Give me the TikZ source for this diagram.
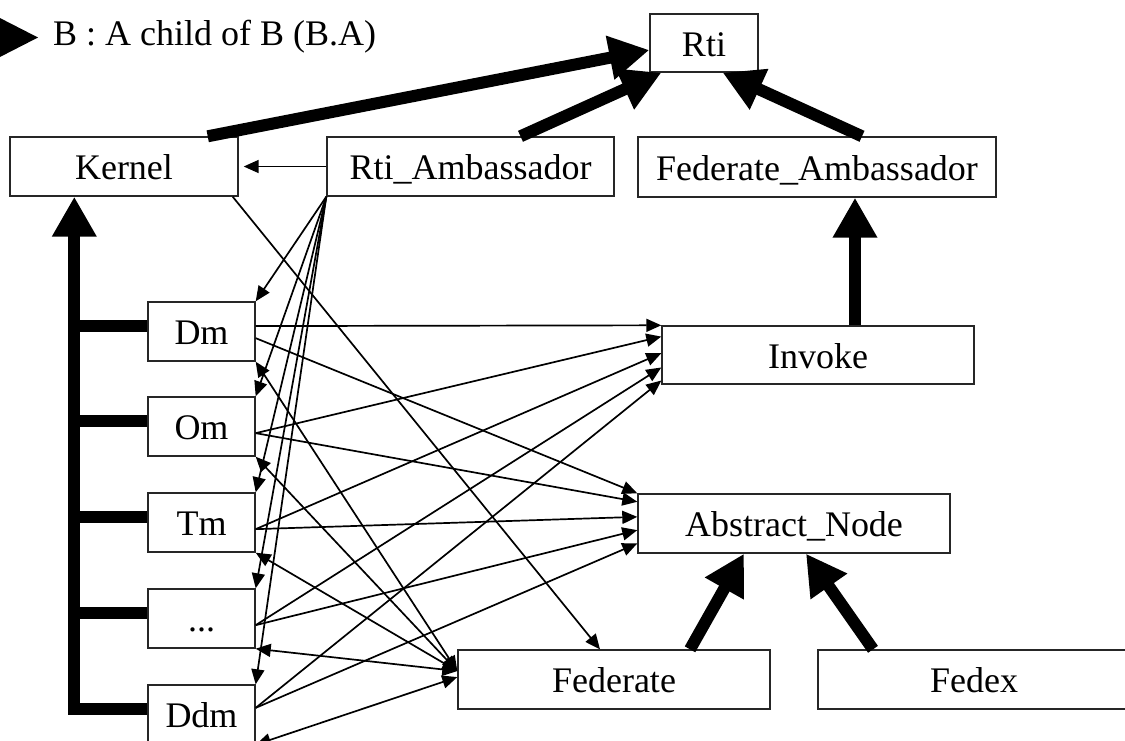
\documentclass[tikz,border=0pt]{standalone}
\usepackage{fontspec}
\setmainfont{Liberation Serif}
\usetikzlibrary{arrows.meta,calc}
\begin{document}
\begin{tikzpicture}[x=1pt,y=-1pt,
  lbl/.style={font=\fontsize{36}{40}\selectfont},
  box/.style={lbl,draw=black!85,line width=1.4pt,minimum height=59pt,inner sep=0pt,
              text height=26pt,text depth=0pt},
  link/.style={line width=1.7pt,-{Triangle[length=15pt,width=13pt]}},
  bilink/.style={line width=1.7pt,{Triangle[length=15pt,width=13pt]}-{Triangle[length=15pt,width=13pt]}},
  inherit/.style={line width=12pt,-{Triangle[length=40pt,width=42pt]}},
  branch/.style={line width=12pt}]
\useasboundingbox (0,0) rectangle (1125,740);
\clip (0,0) rectangle (1125,740);

% legend
\fill (-4,16) -- (38,37.5) -- (-4,59) -- cycle;
\node[lbl,anchor=base west,inner sep=0pt] (legend) at (53,45) {B : A child of B (B.A)};

% classes
\node[box,minimum width=108pt,minimum height=58pt] (rti) at (704,43) {Rti};
\node[box,minimum width=228pt] (kernel) at (124,166.5) {Kernel};
\node[box,minimum width=287pt] (rtiamb) at (470.5,166.5) {Rti\_Ambassador};
\node[box,minimum width=358pt,minimum height=60pt] (fedamb) at (817,167) {Federate\_Ambassador};
\node[box,minimum width=107pt] (dm) at (201.5,331.5) {Dm};
\node[box,minimum width=107pt] (om) at (201.5,426.5) {Om};
\node[box,minimum width=107pt] (tm) at (201.5,522.5) {Tm};
\node[box,minimum width=107pt] (dots) at (201.5,618.5) {...};
\node[box,minimum width=107pt] (ddm) at (201.5,714.5) {Ddm};
\node[box,minimum width=312pt,minimum height=58pt] (invoke) at (818,355) {Invoke};
\node[box,minimum width=312pt] (abs) at (794,523.5) {Abstract\_Node};
\node[box,minimum width=312pt] (federate) at (614,679.5) {Federate};
\node[box,minimum width=312pt] (fedex) at (974,679.5) {Fedex};

% attachment points
\coordinate (dmA) at ($(dm.north east)!0.41!(dm.south east)$);
\coordinate (dmB) at ($(dm.north east)!0.61!(dm.south east)$);
\coordinate (omB) at ($(om.north east)!0.61!(om.south east)$);
\coordinate (tmB) at ($(tm.north east)!0.61!(tm.south east)$);
\coordinate (dotsB) at ($(dots.north east)!0.61!(dots.south east)$);
\coordinate (ddmB) at ($(ddm.north east)!0.39!(ddm.south east)$);

\coordinate (inv1) at (invoke.north west);
\coordinate (inv2) at ($(invoke.north west)!0.19!(invoke.south west)$);
\coordinate (inv3) at ($(invoke.north west)!0.47!(invoke.south west)$);
\coordinate (inv4) at ($(invoke.north west)!0.71!(invoke.south west)$);
\coordinate (inv5) at ($(invoke.north west)!0.93!(invoke.south west)$);

\coordinate (abs1) at (abs.north west);
\coordinate (abs2) at ($(abs.north west)!0.14!(abs.south west)$);
\coordinate (abs3) at ($(abs.north west)!0.39!(abs.south west)$);
\coordinate (abs4) at ($(abs.north west)!0.61!(abs.south west)$);
\coordinate (abs5) at ($(abs.north west)!0.83!(abs.south west)$);

\coordinate (fedL) at ($(federate.north west)!0.36!(federate.south west)$);
\coordinate (fedL2) at ($(federate.north west)!0.46!(federate.south west)$);

% calls
\draw[link,shorten >=5pt] (rtiamb.west) -- (kernel.east);
\draw[link] ($(kernel.south east)+(-6,0)$) -- ($(federate.north)+(-14,0)$);
\foreach \m in {dm,om,tm,dots,ddm}
  \draw[link] (rtiamb.south west) -- (\m.north east);

\draw[link] (dmA) -- (inv1);
\draw[link] (omB) -- (inv2);
\draw[link] (tmB) -- (inv3);
\draw[link] (dotsB) -- (inv4);
\draw[link] (ddmB) -- (inv5);

\draw[link] (dmB) -- (abs1);
\draw[link] (omB) -- (abs2);
\draw[link] (tmB) -- (abs3);
\draw[link] (dotsB) -- (abs4);
\draw[link] (ddmB) -- (abs5);

\foreach \m in {dm,om,tm,dots}
  \draw[bilink] (\m.south east) -- (fedL);
\draw[bilink] (ddm.south east) -- (fedL2);

% inheritance
\draw[inherit] ($(kernel.north east)+(-31,0)$) -- ($(rti.west)+(0,7)$);
\draw[inherit] ($(rtiamb.north)+(50,0)$) -- ($(rti.south west)+(12,0)$);
\draw[inherit] ($(fedamb.north)+(45,0)$) -- ($(rti.south east)+(-36,0)$);
\draw[inherit] ($(invoke.north)+(37,0)$) -- ($(fedamb.south)+(38,0)$);
\draw[inherit] ($(federate.north)+(76,0)$) -- ($(abs.south)+(-50,0)$);
\draw[inherit] ($(fedex.north)+(-101,0)$) -- ($(abs.south)+(12,0)$);

\coordinate (spine) at ($(kernel.south west)+(65,0)$);
\coordinate (dmL) at ($(dm.north west)!0.41!(dm.south west)$);
\coordinate (omL) at ($(om.north west)!0.41!(om.south west)$);
\coordinate (tmL) at ($(tm.north west)!0.41!(tm.south west)$);
\coordinate (dotsL) at ($(dots.north west)!0.41!(dots.south west)$);
\coordinate (ddmL) at ($(ddm.north west)!0.41!(ddm.south west)$);
\draw[inherit] (ddmL) -| (spine);
\foreach \p in {dmL,omL,tmL,dotsL}
  \draw[branch] (\p) -- (\p -| spine);
\end{tikzpicture}
\end{document}
